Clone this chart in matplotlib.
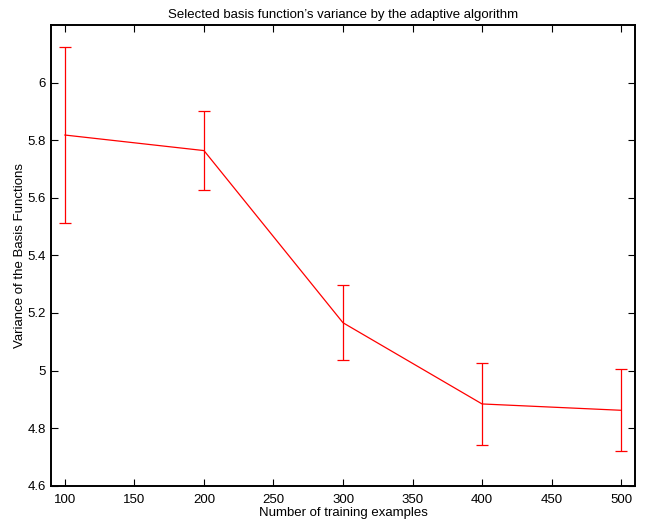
import matplotlib
matplotlib.use('Agg')
import matplotlib.pyplot as plt

plt.rcParams['font.family'] = ['Liberation Sans', 'DejaVu Sans']

# data
n_train = [100, 200, 300, 400, 500]
variance = [5.818, 5.764, 5.166, 4.884, 4.862]
err = [0.305, 0.136, 0.131, 0.141, 0.143]
yticks = [4.6, 4.8, 5.0, 5.2, 5.4, 5.6, 5.8, 6.0]
ytick_labels = ['4.6', '4.8', '5', '5.2', '5.4', '5.6', '5.8', '6']

fig = plt.figure(figsize=(6.48, 5.22), dpi=100)
ax = fig.add_axes([0.0787, 0.0695, 0.9013, 0.8825])

ax.errorbar(n_train, variance, yerr=err, color='red', lw=0.9,
            elinewidth=0.9, capsize=4, capthick=0.9)

ax.set_xlim(90, 510)
ax.set_ylim(4.6, 6.2)
ax.set_xticks([100, 150, 200, 250, 300, 350, 400, 450, 500])
ax.set_yticks(yticks)
ax.set_yticklabels(ytick_labels)
ax.tick_params(direction='in', top=True, right=True, labelsize=9.5, length=5, width=0.8)
ax.tick_params(axis='x', pad=6)
for s in ax.spines.values():
    s.set_linewidth(1.4)

ax.set_title("Selected basis function\u2019s variance by the adaptive algorithm", fontsize=9.5, pad=5)
ax.set_xlabel('Number of training examples', fontsize=9.5, labelpad=1)
ax.set_ylabel('Variance of the Basis Functions', fontsize=9.5, labelpad=1)

fig.savefig('out.png', dpi=100)
